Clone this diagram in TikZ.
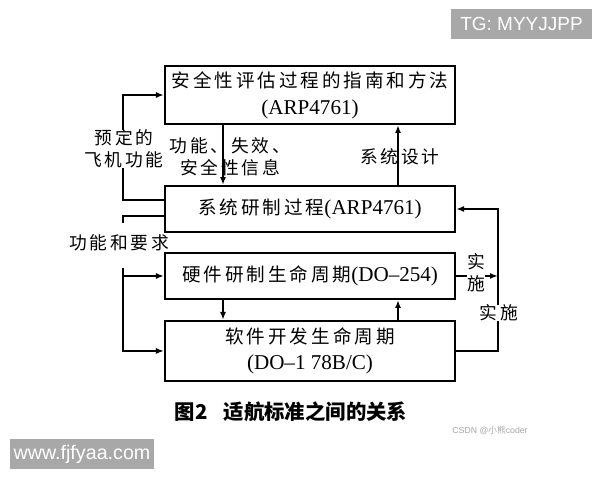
\documentclass[tikz,border=0pt]{standalone}
\usepackage{fontspec}
\setmainfont{Liberation Serif}
\newfontfamily\cjk{Noto Sans CJK SC}
\newfontfamily\cjksp[LetterSpace=16]{Noto Sans CJK SC}
\newfontfamily\wmfont{Liberation Sans}
\newcommand{\zh}[1]{{\cjksp\fontsize{13.2}{19}\selectfont #1}}
\definecolor{markgray}{HTML}{A8A8A8}
\usetikzlibrary{arrows.meta, positioning}
\tikzset{
	boxnode/.style={
			draw=black,
			line width=1.4pt,
			minimum width=7.25cm,
			inner sep=0pt,
			align=center,
			font=\fontsize{15}{19}\selectfont
		},
	labelnode/.style={
			inner sep=0pt,
			align=center,
			font=\cjksp\fontsize{12.6}{15.6}\selectfont
		},
	arrowline/.style={
			line width=1.2pt,
			-{Latex[length=2mm,width=1.5mm]}
		},
	plainline/.style={
			line width=1.2pt
		},
	marknode/.style={
			fill=markgray,
			text=white,
			inner sep=0pt,
			minimum height=0.75cm,
			font=\wmfont\fontsize{13.5}{15}\selectfont
		}
}

\begin{document}
\begin{tikzpicture}[x=0.025cm, y=-0.025cm]
	\useasboundingbox (0,0) rectangle (600,480);
	% the four boxes
	\node[boxnode, minimum height=1.45cm] at (310,95) (safety) {\zh{安全性评估过程的指南和方法}\\(ARP4761)};
	\node[boxnode, minimum height=1.15cm, below = 1.5cm of safety] (system) {\zh{系统研制过程}(ARP4761)};
	\node[boxnode, minimum height=1.15cm, below = 0.475cm of system] (hardware) {\zh{硬件研制生命周期}(DO–254)};
	\node[boxnode, minimum height=1.5cm, below = 0.5cm of hardware] (software) {\zh{软件开发生命周期}\\(DO–1 78B/C)};

	\coordinate (ax) at (223,0);
	\coordinate (bx) at (398,0);
	\coordinate (lx) at (123,0);
	\coordinate (rx) at (498,0);

	% between the boxes
	\draw[arrowline] (ax |- safety.south) -- (ax |- system.north);
	\draw[arrowline] (bx |- system.north) -- (bx |- safety.south);
	\draw[arrowline] (ax |- hardware.south) -- (ax |- software.north);
	\draw[arrowline] (bx |- software.north) -- (bx |- hardware.south);
	\node[labelnode] at (230,157) (info) {功能、失效、\\安全性信息};
	\node[labelnode] at (400,157) (design) {系统设计};

	% left side
	\node[labelnode] at (124,149) (preset) {预定的\\飞机功能};
	\draw[plainline] (system.west) ++(0,-9) -| (lx |- preset.south);
	\draw[arrowline] (lx |- preset.north) |- (safety.west);
	\node[labelnode] at (119,243) (req) {功能和要求};
	\coordinate (reqtop) at (123,223);
	\coordinate (reqbot) at (123,268);
	\draw[plainline] (system.west) ++(0,7) -| (reqtop);
	\draw[arrowline] (reqbot) |- (software.west);
	\draw[arrowline] (reqbot |- hardware.west) -- (hardware.west);

	% right side
	\draw[arrowline] (hardware.east) -- (rx |- hardware.east);
	\node[labelnode, fill=white] at (476,273) (impl) {实\\施};
	\node[labelnode] at (499,313) (implall) {实施};
	\draw[plainline] (software.east) -| (rx |- implall.south);
	\draw[arrowline] (rx |- implall.north) |- (system.east);

	% caption and marks
	\node[inner sep=0pt, font=\cjk\bfseries\fontsize{14.5}{16}\selectfont] at (291,412) (caption) {图2\hspace{0.8em}适航标准之间的关系};
	\node[inner sep=0pt, text=black!35, font=\wmfont\fontsize{6.2}{7}\selectfont] at (490,430) (csdn) {CSDN @{\cjk 小熊}coder};
	\node[marknode, minimum width=3.525cm] at (521.5,24) (tg) {TG: MYYJJPP};
	\node[marknode, minimum width=3.6cm, font=\wmfont\fontsize{14}{15}\selectfont] at (82,454) (site) {www.fjfyaa.com};
\end{tikzpicture}
\end{document}
